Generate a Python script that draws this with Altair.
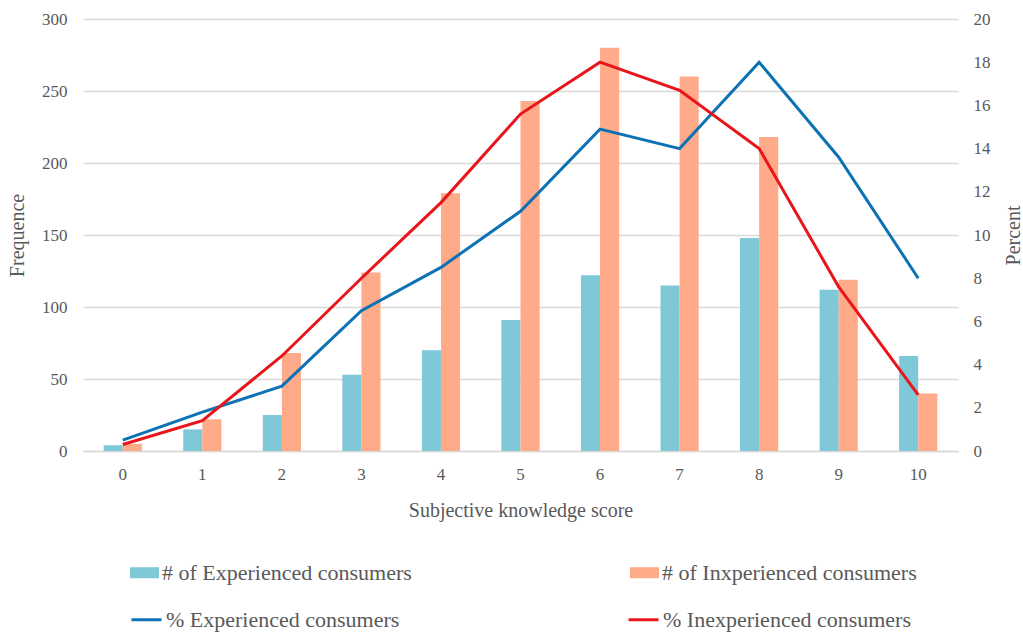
import altair as alt
import pandas as pd

scores = [str(i) for i in range(11)]
exp_counts = [4, 15, 25, 53, 70, 91, 122, 115, 148, 112, 66]
inexp_counts = [5, 22, 68, 124, 179, 243, 280, 260, 218, 119, 40]
exp_pct = [0.5, 1.8, 3.0, 6.5, 8.5, 11.1, 14.9, 14.0, 18.0, 13.6, 8.0]
inexp_pct = [0.3, 1.4, 4.4, 8.0, 11.5, 15.6, 18.0, 16.7, 14.0, 7.6, 2.6]

bar_names = ["# of Experienced consumers", "# of Inxperienced consumers"]
line_names = ["% Experienced consumers", "% Inexperienced consumers"]

bars = pd.DataFrame({
    "score": scores * 2,
    "count": exp_counts + inexp_counts,
    "series": [bar_names[0]] * 11 + [bar_names[1]] * 11,
})
lines = pd.DataFrame({
    "score": scores * 2,
    "pct": exp_pct + inexp_pct,
    "series": [line_names[0]] * 11 + [line_names[1]] * 11,
})

FONT = "Liberation Serif"
GRAY = "#595959"

xscale = alt.Scale(domain=scores, paddingInner=0.52, paddingOuter=0.26)
xaxis = alt.Axis(title="Subjective knowledge score", labelAngle=0, ticks=False,
                 tickSize=0, labelPadding=15, titlePadding=18, domain=True,
                 domainColor="#D9D9D9", domainWidth=1.5,
                 labelFontSize=17, titleFontSize=20, labelColor=GRAY, titleColor=GRAY,
                 labelFont=FONT, titleFont=FONT, titleFontWeight="normal", grid=False)

rect_path = "M-1,-0.38H1V0.38H-1Z"

bar_layer = alt.Chart(bars).mark_bar().encode(
    x=alt.X("score:N", scale=xscale, axis=xaxis, sort=scores),
    xOffset=alt.XOffset("series:N", sort=bar_names),
    y=alt.Y("count:Q", scale=alt.Scale(domain=[0, 300]),
            axis=alt.Axis(title="Frequence", values=[0, 50, 100, 150, 200, 250, 300],
                          ticks=False, tickSize=0, domain=False, labelPadding=16,
                          titlePadding=14, gridColor="#D9D9D9", gridWidth=1.5,
                          labelFontSize=17, titleFontSize=20, labelColor=GRAY,
                          titleColor=GRAY, labelFont=FONT, titleFont=FONT,
                          titleFontWeight="normal")),
    fill=alt.Fill("series:N", scale=alt.Scale(domain=bar_names, range=["#7EC8D8", "#FFAA88"]),
                  legend=alt.Legend(title=None, orient="none", legendX=47, legendY=539,
                                    direction="horizontal", columns=2, columnPadding=218,
                                    symbolType=rect_path, symbolSize=841, symbolStrokeWidth=0,
                                    labelFontSize=22, labelFont=FONT, labelColor=GRAY,
                                    labelLimit=500, labelOffset=3)),
)

line_layer = alt.Chart(lines).mark_line(strokeWidth=3).encode(
    x=alt.X("score:N", scale=xscale, sort=scores, axis=xaxis),
    y=alt.Y("pct:Q", scale=alt.Scale(domain=[0, 20]),
            axis=alt.Axis(title="Percent", orient="right", titleAngle=270,
                          values=[0, 2, 4, 6, 8, 10, 12, 14, 16, 18, 20],
                          ticks=False, tickSize=0, domain=False, grid=False, labelPadding=15,
                          titlePadding=33, labelFontSize=17, titleFontSize=20,
                          labelColor=GRAY, titleColor=GRAY, labelFont=FONT,
                          titleFont=FONT, titleFontWeight="normal")),
    stroke=alt.Stroke("series:N", scale=alt.Scale(domain=line_names, range=["#0D72B5", "#E8161B"]),
                      legend=alt.Legend(title=None, orient="none", legendX=47, legendY=584,
                                        direction="horizontal", columns=2, columnPadding=222,
                                        symbolType="stroke", symbolSize=900, symbolStrokeWidth=3,
                                        labelFontSize=22, labelFont=FONT, labelColor=GRAY,
                                        labelLimit=500, labelOffset=3)),
)

chart = alt.layer(bar_layer, line_layer).resolve_scale(
    y="independent", fill="independent", stroke="independent"
).properties(
    width=875, height=432,
    autosize=alt.AutoSizeParams(type="none"),
    padding={"left": 83, "top": 19, "right": 65, "bottom": 181},
    background="white",
).configure_view(strokeWidth=0, strokeOpacity=0)

chart.save("out.html", embed_options={"renderer": "svg", "actions": False})
